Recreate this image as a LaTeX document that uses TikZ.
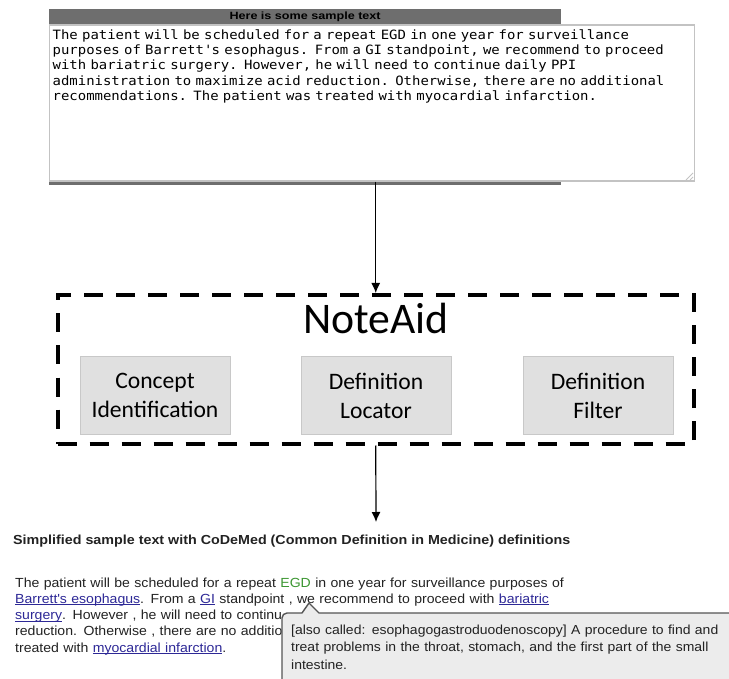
\documentclass[tikz,border=0pt]{standalone}
\usepackage{fontspec}
\setmainfont{Liberation Sans}[FakeStretch=1.066]
\newfontfamily\calfont{Carlito}
\newfontfamily\areafont{DejaVu Sans Mono}[FakeStretch=1.09]
\usetikzlibrary{arrows.meta,positioning}
\definecolor{bargray}{RGB}{110,110,110}
\definecolor{areaedge}{RGB}{195,195,195}
\definecolor{stagefill}{RGB}{224,224,224}
\definecolor{stageedge}{RGB}{200,200,200}
\definecolor{linkblue}{RGB}{45,40,150}
\definecolor{egdgreen}{RGB}{60,150,50}
\definecolor{popfill}{RGB}{236,236,236}
\definecolor{popedge}{RGB}{85,85,85}
\definecolor{inktext}{RGB}{34,34,34}
\newcommand{\lnk}[1]{\textcolor{linkblue}{\setbox0\hbox{#1}\rlap{\rule[-1.8pt]{\wd0}{0.8pt}}\box0}}
\tikzset{
    areabox/.style={draw=areaedge, line width=1.2pt, fill=white, minimum width=645pt, minimum height=156pt, inner sep=0pt},
    titlebar/.style={fill=bargray, minimum width=512pt, minimum height=15pt, inner sep=0pt, font=\bfseries\fontsize{10.5}{12}\selectfont},
    areatext/.style={font=\areafont\fontsize{12.8}{15.3}\selectfont, align=left, text width=680pt, inner sep=0pt},
    noteaidbox/.style={draw, line width=4pt, dash pattern=on 19pt off 13pt, minimum width=636.5pt, minimum height=148.5pt},
    stagebox/.style={draw=stageedge, fill=stagefill, line width=1pt, minimum width=150pt, minimum height=77pt, align=center, inner sep=0pt, font=\calfont\fontsize{23.6}{29}\selectfont},
    flow/.style={line width=1.2pt, -{Latex[length=10pt,width=9pt]}},
    paratext/.style={font=\fontsize{13.2}{16.25}\selectfont, text=inktext, align=left, text width=650pt, inner sep=0pt},
    poptext/.style={font=\fontsize{13.1}{17.4}\selectfont, text=inktext, align=left, text width=480pt, inner sep=0pt}
}

\begin{document}
\begin{tikzpicture}[x=1pt,y=-1pt]
\useasboundingbox (0,0) rectangle (729,679);
\clip (0,0) rectangle (729,679);

%%% SAMPLE TEXT AREA %%%
\node[areabox] (area) at (372,103) {}; % text area
\node[titlebar, anchor=south west] (bar) at (area.north west) {\scalebox{1.125}[1]{Here is some sample text}}; % grey title
\fill[bargray] (bar.south west |- area.south) rectangle ++(512,3); % bottom strip
\draw[areaedge, line width=0.8pt] (686,180) -- (693,173) (690,180) -- (693,177); % resize grip
\node[areatext, anchor=base west] (sample) at (52.5,39.3) {The patient will be scheduled for a repeat EGD in one year for surveillance\\purposes of Barrett\textquotesingle s esophagus. From a GI standpoint, we recommend to proceed\\with bariatric surgery. However, he will need to continue daily PPI\\administration to maximize acid reduction. Otherwise, there are no additional\\recommendations. The patient was treated with myocardial infarction.};

%%% NOTEAID %%%
\node[noteaidbox] (noteaid) at (375.75,369.25) {};
\node[anchor=base, font=\calfont\fontsize{43.7}{52}\selectfont] (name) at (376,334) {NoteAid};
\node[stagebox] (concept) at (155,395.5) {Concept\\Identification};
\node[stagebox] (locator) at (376,395.5) {Definition\\Locator};
\node[stagebox] (filter) at (598,395.5) {Definition\\Filter};

\draw[flow] (noteaid.north |- area.south) -- (noteaid.north); % into NoteAid
\coordinate (outtip) at (376,522); % arrow end
\draw[flow] (noteaid.south) -- (outtip); % out of NoteAid

%%% SIMPLIFIED TEXT %%%
\node[anchor=base west, inner sep=0pt, text=inktext, font=\bfseries\addfontfeature{FakeStretch=1.092}\fontsize{13.1}{15}\selectfont] (heading) at (13,544) {Simplified sample text with CoDeMed (Common Definition in Medicine) definitions};
\node[paratext, anchor=base west] (simple) at (15,587) {The patient will be scheduled for a repeat \textcolor{egdgreen}{EGD} in one year for surveillance purposes of\\\lnk{Barrett\textquotesingle s esophagus}. From a \lnk{GI} standpoint , we recommend to proceed with \lnk{bariatric}\\\lnk{surgery}. However , he will need to continu\\reduction. Otherwise , there are no additio\\treated with \lnk{myocardial infarction}.};

%%% POPUP %%%
\fill[popfill] (740,613) -- (319,613) -- (309,603) -- (302,613) -- (287,613) arc[start angle=270, end angle=180, radius=5] -- (282,690) -- (740,690) -- cycle;
\draw[popedge, line width=1.4pt, line join=round] (740,613) -- (319,613) -- (309,603) -- (302,613) -- (287,613) arc[start angle=270, end angle=180, radius=5] -- (282,690);
\node[poptext, anchor=base west] (gloss) at (291,634.5) {[also called: esophagogastroduodenoscopy] A procedure to find and\\treat problems in the throat, stomach, and the first part of the small\\intestine.};
\end{tikzpicture}
\end{document}
